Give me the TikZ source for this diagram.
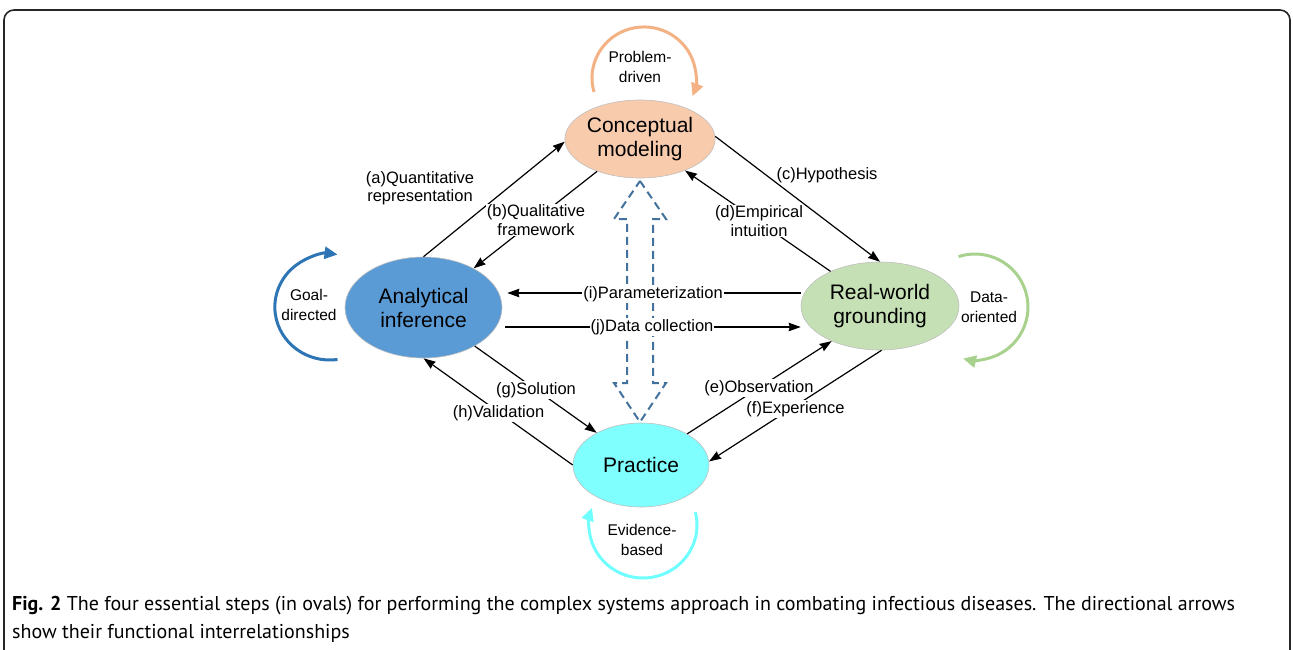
\documentclass[tikz,border=0pt]{standalone}
\usepackage{fontspec}
\setmainfont{Liberation Sans}
\newfontfamily\capfont{PT Sans}
\usetikzlibrary{shapes.geometric,arrows.meta,calc}
\definecolor{conC}{HTML}{F8CBAD}
\definecolor{anaC}{HTML}{5B9BD5}
\definecolor{rwC}{HTML}{C5E0B4}
\definecolor{prC}{HTML}{80FFFF}
\definecolor{orgC}{HTML}{F4B183}
\definecolor{bluC}{HTML}{2E75B6}
\definecolor{grnC}{HTML}{A9D18E}
\definecolor{cyaC}{HTML}{70FFFF}
\definecolor{dashC}{HTML}{41719C}
\begin{document}
\begin{tikzpicture}[x=1pt,y=1pt,
  oval/.style={ellipse, draw=black!25, line width=0.6pt, inner sep=0pt, align=center,
    font=\fontsize{21}{24}\selectfont},
  arr/.style={line width=1.2pt, -{Stealth[length=12pt,width=8.5pt,inset=1pt]}},
  lab/.style={align=center, font=\fontsize{16.5}{18.5}\selectfont, inner sep=1pt, fill=white},
  nolab/.style={align=center, font=\fontsize{16.5}{18.5}\selectfont, inner sep=1pt},
  looplab/.style={align=center, font=\fontsize{15.5}{19.5}\selectfont},
  loopline/.style={line width=3pt, -{Triangle[length=13pt,width=12pt]}},
  capstyle/.style={anchor=base west, inner sep=0pt, font=\capfont\fontsize{20}{28}\selectfont}]
\useasboundingbox (0,0) rectangle (1293,-649);
% frame
\draw[line width=1.6pt, rounded corners=10pt, color=black!85] (4,-700) -- (4,-10) -- (1290,-10) -- (1290,-700);

% ovals
\node[oval, fill=conC, minimum width=136pt, minimum height=78pt] (con) at (640,-139) {Conceptual\\modeling};
\node[oval, fill=anaC, minimum width=157pt, minimum height=101pt] (ana) at (423.5,-307.5) {Analytical\\inference};
\node[oval, fill=rwC, minimum width=158pt, minimum height=88pt] (rw) at (880,-306) {Real-world\\grounding};
\node[oval, fill=prC, minimum width=136pt, minimum height=84pt] (pr) at (641,-465) {Practice};

% dashed double arrow
\draw[dashC, line width=2pt, dash pattern=on 8pt off 5pt, line join=miter]
  (640,-181) -- (666,-219) -- (653,-219) -- (653,-383) -- (666,-383) -- (640,-422)
  -- (614,-383) -- (627,-383) -- (627,-219) -- (614,-219) -- cycle;

% connectors
\draw[arr] (ana.90) -- (con.182);
\draw[arr] (con.217) -- (ana.38);
\node[lab] (lb) at (536,-220) {(b)Qualitative\\framework};
\draw[arr] (rw.145) -- (con.-35);
\node[lab] (ld) at (759,-221) {(d)Empirical\\intuition};
\draw[arr] (con.2) -- (rw.90);
\node[nolab] (la) at (420,-188) {(a)Quantitative\\representation};
\node[nolab] (lc) at (827,-175) {(c)Hypothesis};

\draw[arr] ($(rw.west)+(0,13)$) -- ($(ana.east)+(5,14.5)$);
\node[lab] (li) at (653,-294) {(i)Parameterization};
\draw[arr] ($(ana.east)+(3,-19.5)$) -- ($(rw.west)+(0,-21)$);
\node[lab] (lj) at (652,-327) {(j)Data collection};

\draw[arr] (ana.-37) -- (pr.144);
\node[lab] (lg) at (536,-390) {(g)Solution};
\draw[arr] (pr.180) -- (ana.-90);
\node[lab] (lh) at (498.5,-413) {(h)Validation};
\draw[arr] (pr.34) -- (rw.216);
\node[lab] (le) at (759,-388) {(e)Observation};
\draw[arr] (rw.-88) -- (pr.3);
\node[lab] (lf) at (795.5,-409) {(f)Experience};

% loops
\draw[loopline, color=orgC] ($(con)+(-46,47)$) arc[start angle=196, end angle=-21, x radius=52, y radius=51];
\node[looplab] (lpd) at (640,-67) {Problem-\\driven};
\draw[loopline, color=bluC] ($(ana)+(-86,-52)$) arc[start angle=278, end angle=82, x radius=55, y radius=53];
\node[looplab] (lgd) at (309,-305) {Goal-\\directed};
\draw[loopline, color=grnC] ($(rw)+(78.6,49.4)$) arc[start angle=108, end angle=-103, radius=53];
\node[looplab] (ldo) at (989,-307) {Data-\\oriented};
\draw[loopline, color=cyaC] ($(pr)+(54.4,-47.2)$) arc[start angle=14, end angle=-199, x radius=54, y radius=53];
\node[looplab] (leb) at (642,-540) {Evidence-\\based};

% caption
\node[capstyle] (cap1) at (12,-610) {\textbf{Fig. 2} The four essential steps (in ovals) for performing the complex systems approach in combating infectious diseases. The directional arrows};
\node[capstyle] (cap2) at (12,-638) {show their functional interrelationships};
\end{tikzpicture}
\end{document}
